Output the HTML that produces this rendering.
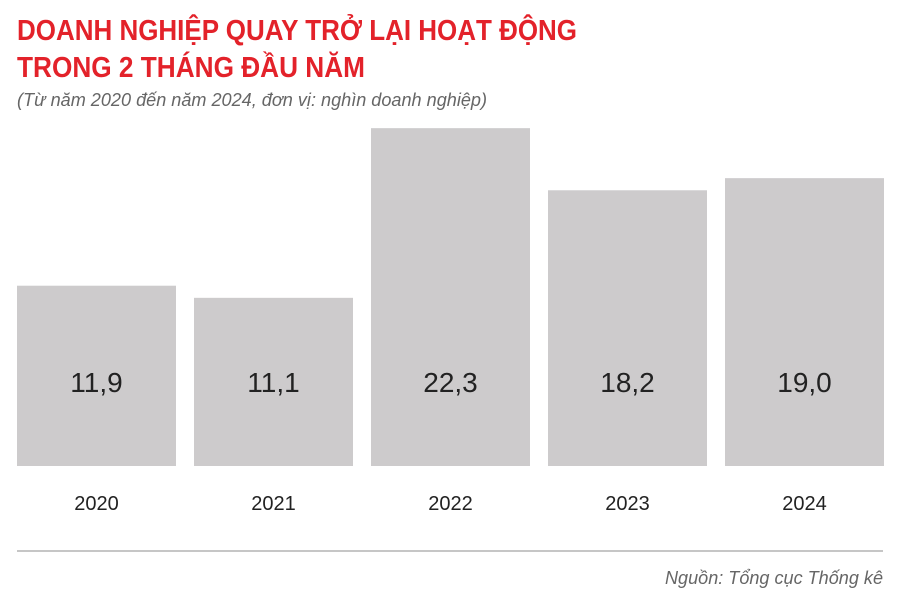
<!DOCTYPE html>
<html><head><meta charset="utf-8"><style>
html,body{margin:0;padding:0;background:#fff;width:900px;height:592px;overflow:hidden}
svg{display:block}
text{font-family:"Liberation Sans",sans-serif}
</style></head><body>
<svg id="chart" width="900" height="592">
<text x="17" y="40" font-size="29" font-weight="bold" fill="#e3222a" textLength="560" lengthAdjust="spacingAndGlyphs">DOANH NGHIỆP QUAY TRỞ LẠI HOẠT ĐỘNG</text>
<text x="17" y="77" font-size="29" font-weight="bold" fill="#e3222a" textLength="348" lengthAdjust="spacingAndGlyphs">TRONG 2 THÁNG ĐẦU NĂM</text>
<text x="17" y="106" font-size="18" font-style="italic" fill="#666" textLength="470" lengthAdjust="spacingAndGlyphs">(Từ năm 2020 đến năm 2024, đơn vị: nghìn doanh nghiệp)</text>
<g id="bars"></g>
<line x1="17" y1="551" x2="883" y2="551" stroke="#b3b3b3" stroke-width="1.5"/>
<text x="883" y="584" text-anchor="end" font-size="18" font-style="italic" fill="#666" textLength="218" lengthAdjust="spacingAndGlyphs">Nguồn: Tổng cục Thống kê</text>
</svg>
<script>
const categories = ["2020","2021","2022","2023","2024"];
const values = [11.9, 11.1, 22.3, 18.2, 19.0];
const valueLabels = ["11,9","11,1","22,3","18,2","19,0"];

const ns = "http://www.w3.org/2000/svg";
const g = document.getElementById("bars");
const baseY = 466, pxPerUnit = 15.15, x0 = 17, step = 177, bw = 159;
function xPos(i){ return x0 + i*step; }
function yPos(v){ return baseY - v*pxPerUnit; }
categories.forEach((c,i)=>{
  const r = document.createElementNS(ns,"rect");
  
  
  r.setAttribute("x", xPos(i));
  r.setAttribute("y", yPos(values[i]));
  r.setAttribute("width", bw);
  r.setAttribute("height", baseY - yPos(values[i]));
  r.setAttribute("fill", "#cdcbcc");
  g.appendChild(r);
  const t = document.createElementNS(ns,"text");
  
  
  t.setAttribute("x", xPos(i)+bw/2);
  t.setAttribute("y", 392);
  t.setAttribute("text-anchor","middle");
  t.setAttribute("font-size","28");
  t.setAttribute("fill","#222");
  t.textContent = valueLabels[i];
  g.appendChild(t);
  const y = document.createElementNS(ns,"text");
  
  
  y.setAttribute("x", xPos(i)+bw/2);
  y.setAttribute("y", 510);
  y.setAttribute("text-anchor","middle");
  y.setAttribute("font-size","20");
  y.setAttribute("fill","#222");
  y.textContent = c;
  g.appendChild(y);
});
</script>
</body></html>
